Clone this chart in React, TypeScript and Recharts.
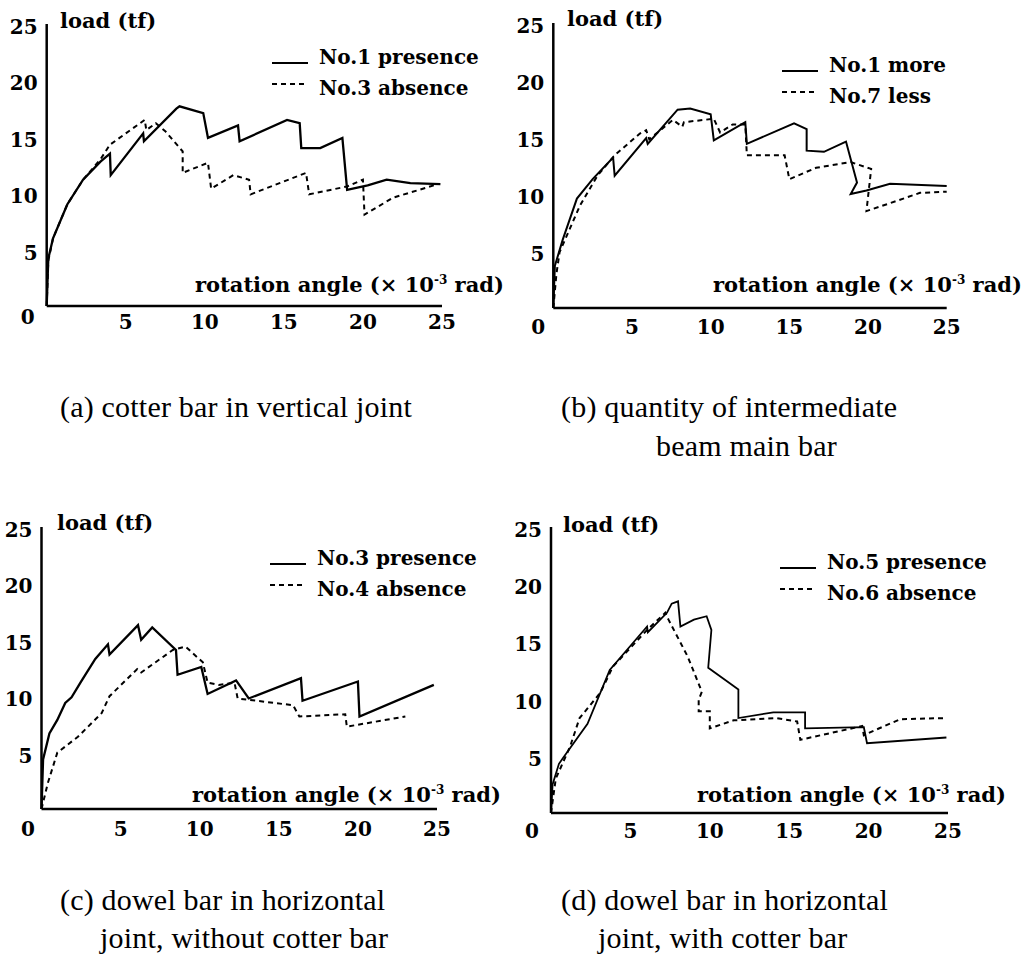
import React from 'react';
import { LineChart, Line, XAxis, YAxis, Legend } from 'recharts';

type Pt = [number, number];

const xTicks = [0, 5, 10, 15, 20, 25];
const yTicks = [5, 10, 15, 20, 25];
const yTitle = 'load (tf)';
const xTitleMain = 'rotation angle (\u00d7 10';
const xTitleExp = '-3';
const xTitleUnit = ' rad)';

// (a) cotter bar in vertical joint
const aPresence: Pt[] = [[0, 0], [0.1, 4.2], [0.4, 6], [1.3, 9], [2.3, 11.2], [3.4, 12.8], [4.0, 13.5], [4.05, 11.6], [6.1, 15.3], [6.15, 14.6], [8.2, 17.5], [8.4, 17.7], [9.9, 17.1], [10.2, 14.9], [12.1, 16.0], [12.2, 14.6], [15.2, 16.5], [16.0, 16.2], [16.1, 14.0], [17.3, 14.0], [18.7, 14.9], [19.0, 10.3], [20.3, 10.7], [21.5, 11.2], [23, 10.9], [24.9, 10.8]];
const aAbsence: Pt[] = [[0, 0], [0.1, 4], [0.4, 6], [1.3, 9], [2.3, 11.2], [3.4, 13.0], [4.0, 14.3], [5.0, 15.3], [6.2, 16.5], [6.3, 15.6], [6.9, 16.2], [7.5, 15.5], [8.6, 13.7], [8.6, 11.8], [10.2, 12.7], [10.4, 10.4], [11.8, 11.6], [12.8, 11.2], [12.9, 9.9], [16.4, 11.8], [16.6, 9.9], [19.0, 10.6], [20.0, 11.2], [20.1, 8.1], [21.9, 9.6], [24.5, 10.7]];

// (b) quantity of intermediate beam main bar
const bMore: Pt[] = [[0, 0], [0.1, 3.7], [0.6, 6.0], [1.5, 9.6], [2.5, 11.3], [3.8, 13.2], [3.9, 11.6], [5.9, 14.9], [6.0, 14.4], [7.9, 17.4], [8.7, 17.5], [10.0, 17.0], [10.2, 14.7], [12.2, 16.3], [12.3, 14.4], [15.3, 16.2], [16.1, 15.7], [16.1, 13.8], [17.2, 13.7], [18.6, 14.6], [19.3, 11.0], [18.9, 10.0], [19.9, 10.3], [21.4, 10.9], [25, 10.7]];
const bLess: Pt[] = [[0, 0], [0.2, 3], [0.4, 4.9], [1.7, 9.0], [2.8, 11.6], [3.9, 13.4], [5.5, 15.3], [5.9, 15.6], [6.1, 14.8], [7.6, 16.5], [8.2, 15.9], [8.3, 16.3], [10.2, 16.6], [10.6, 15.4], [11.4, 16.1], [12.2, 16.1], [12.3, 13.4], [14.7, 13.4], [15.0, 11.3], [16.7, 12.3], [18.9, 12.8], [20.2, 12.2], [19.9, 8.5], [21.2, 9.1], [23.3, 10.1], [25.0, 10.2]];

// (c) dowel bar in horizontal joint, without cotter bar
const cPresence: Pt[] = [[0, 0], [0.1, 4.4], [0.5, 6.7], [1.0, 7.9], [1.5, 9.4], [1.9, 9.9], [2.5, 11.3], [3.4, 13.3], [4.2, 14.6], [4.3, 13.7], [6.1, 16.3], [6.3, 15.0], [7.0, 16.1], [8.5, 14.1], [8.6, 11.9], [10.1, 12.6], [10.5, 10.2], [12.3, 11.4], [13.1, 9.8], [16.4, 11.6], [16.5, 9.6], [20.0, 11.3], [20.1, 8.2], [24.8, 11.0]];
const cAbsence: Pt[] = [[0, 0], [0.4, 2.3], [1.0, 5.0], [2.3, 6.4], [3.8, 8.5], [4.3, 10.0], [6.05, 12.4], [6.3, 12.1], [8.3, 14.1], [9.1, 14.4], [10.2, 13.0], [10.5, 11.2], [11.2, 11.0], [12.2, 11.2], [12.4, 9.8], [15.9, 9.2], [16.3, 8.2], [19.2, 8.4], [19.3, 7.3], [23.0, 8.2]];

// (d) dowel bar in horizontal joint, with cotter bar
const dPresence: Pt[] = [[0, 0], [0.1, 2.5], [0.5, 4.3], [0.8, 4.9], [2.3, 7.8], [3.7, 12.5], [6.05, 16.3], [6.1, 15.8], [7.3, 17.5], [7.6, 18.3], [8.0, 18.5], [8.15, 16.3], [9.0, 16.9], [9.8, 17.2], [10.1, 16.0], [9.9, 12.7], [11.3, 11.3], [11.8, 10.8], [11.8, 8.3], [14.0, 8.8], [16.0, 8.8], [16.0, 7.4], [19.7, 7.5], [19.9, 6.1], [24.9, 6.6]];
const dAbsence: Pt[] = [[0, 0], [0.3, 3], [1.2, 5.8], [1.8, 8.3], [3.1, 10.5], [3.9, 12.8], [6.05, 16.0], [7.2, 17.5], [7.4, 16.9], [8.6, 13.7], [9.5, 10.6], [9.3, 9.9], [9.3, 8.9], [10.0, 8.9], [10.0, 7.4], [11.5, 8.1], [14.2, 8.3], [15.5, 8.0], [15.7, 6.4], [19.6, 7.6], [19.7, 6.8], [20.5, 7.3], [22.0, 8.2], [24.9, 8.3]];

const legendA = ['No.1 presence', 'No.3 absence'];
const legendB = ['No.1 more', 'No.7 less'];
const legendC = ['No.3 presence', 'No.4 absence'];
const legendD = ['No.5 presence', 'No.6 absence'];

const captionA = ['(a) cotter bar in vertical joint'];
const captionB = ['(b) quantity of intermediate', 'beam main bar'];
const captionC = ['(c) dowel bar in horizontal', 'joint, without cotter bar'];
const captionD = ['(d) dowel bar in horizontal', 'joint, with cotter bar'];

const BOLD = '"DejaVu Serif", serif';
const REG = '"Liberation Serif", "Times New Roman", serif';
const TICK_FS = 20;
const TITLE_FS = 21;
const LEGEND_FS = 20;
const CAP_FS = 30;
const DASH = '5 4';
const Y_AXIS_W = 30;
const X_AXIS_H = 30;

interface PanelCfg {
  left: number; top: number; width: number; height: number;
  x0: number; x1: number; y0: number; y1: number;
  zeroDx: number; zeroDy: number; xLabelDy: number;
  legX: number; legY: number;
  loadX: number; loadY: number; rotX: number; rotY: number;
  solid: Pt[]; dashed: Pt[]; legend: string[];
  caption: string[]; capX: number[]; capY: number[];
  solidW: number;
}

const toRows = (pts: Pt[]) => pts.map(([x, y]) => ({ x, y }));

const Title = (p: any) => (
  <text x={p.px} y={p.py} fontFamily={BOLD} fontWeight="bold" fontSize={TITLE_FS} fill="#000">
    {p.children}
  </text>
);

const RotTitle = (p: any) => (
  <text x={p.px} y={p.py} fontFamily={BOLD} fontWeight="bold" fontSize={TITLE_FS} fill="#000">
    <tspan>{xTitleMain}</tspan>
    <tspan dy={-8} fontSize={12}>{xTitleExp}</tspan>
    <tspan dy={8}>{xTitleUnit}</tspan>
  </text>
);

function Panel({ c }: { c: PanelCfg }) {
  const margin = {
    left: c.x0 - c.left - Y_AXIS_W,
    right: c.left + c.width - c.x1,
    top: c.y1 - c.top,
    bottom: c.top + c.height - c.y0 - X_AXIS_H,
  };
  const XTick = (p: any) => {
    const v = p.payload.value;
    return (
      <text x={p.x + (v === 0 ? c.zeroDx : 0)} y={p.y + c.xLabelDy + (v === 0 ? c.zeroDy : 0)} textAnchor="middle"
        fontFamily={BOLD} fontWeight="bold" fontSize={TICK_FS} fill="#000">{v}</text>
    );
  };
  const YTick = (p: any) => (
    <text x={p.x - 9} y={p.y + 10} textAnchor="end" fontFamily={BOLD} fontWeight="bold" fontSize={TICK_FS} fill="#000">
      {p.payload.value}
    </text>
  );
  const legendContent = () => (
    <div style={{ position: 'relative', width: 250, height: 60 }}>
      {c.legend.map((name, i) => (
        <div key={name}>
          <svg width={38} height={4} style={{ position: 'absolute', left: 0, top: (i === 0 ? 18 : 39) - 2 }}>
            <line x1={0} y1={2} x2={36} y2={2} stroke="#000" strokeWidth={2} strokeDasharray={i === 0 ? undefined : DASH} />
          </svg>
          <span style={{
            position: 'absolute', left: 47, top: (i === 0 ? 12 : 43) - 13, lineHeight: '26px', height: 26,
            fontFamily: BOLD, fontWeight: 'bold', fontSize: LEGEND_FS, color: '#000', whiteSpace: 'nowrap',
          }}>{name}</span>
        </div>
      ))}
    </div>
  );
  return (
    <>
      <div style={{ position: 'absolute', left: c.left, top: c.top }}>
        <LineChart width={c.width} height={c.height} margin={margin}>
          <XAxis type="number" dataKey="x" domain={[0, 25]} ticks={xTicks} interval={0} height={X_AXIS_H}
            tickLine={false} tickSize={0} tickMargin={0} tick={<XTick />}
            axisLine={{ stroke: '#000', strokeWidth: 2.5 }}
            label={<RotTitle px={c.rotX - c.left} py={c.rotY - c.top + 7} />} />
          <YAxis type="number" domain={[0, 25]} ticks={yTicks} interval={0} width={Y_AXIS_W}
            tickLine={false} tickSize={0} tickMargin={0} tick={<YTick />}
            axisLine={{ stroke: '#000', strokeWidth: 2.5 }}
            label={<Title px={c.loadX - c.left} py={c.loadY - c.top + 7}>{yTitle}</Title>} />
          <Legend layout="vertical" align="center" verticalAlign="middle" content={legendContent}
            wrapperStyle={{ left: c.legX - c.left, top: c.legY - c.top, width: 250, height: 60 }} />
          <Line data={toRows(c.solid)} dataKey="y" name={c.legend[0]} type="linear" stroke="#000" strokeWidth={c.solidW}
            dot={false} activeDot={false} isAnimationActive={false} />
          <Line data={toRows(c.dashed)} dataKey="y" name={c.legend[1]} type="linear" stroke="#000" strokeWidth={2}
            strokeDasharray={DASH} dot={false} activeDot={false} isAnimationActive={false} />
        </LineChart>
      </div>
      {c.caption.map((t, i) => (
        <div key={t} style={{
          position: 'absolute', left: c.capX[i], top: c.capY[i] - 17, height: 34, lineHeight: '34px',
          fontFamily: REG, fontSize: CAP_FS, letterSpacing: 0.2, color: '#000', whiteSpace: 'nowrap',
        }}>{t}</div>
      ))}
    </>
  );
}

const panels: PanelCfg[] = [
  {
    left: 0, top: 0, width: 515, height: 345, x0: 46.7, x1: 442, y0: 306, y1: 24,
    zeroDx: -19, zeroDy: -5, xLabelDy: 23, legX: 272, legY: 45,
    loadX: 60, loadY: 21, rotX: 195, rotY: 285,
    solid: aPresence, dashed: aAbsence, legend: legendA,
    caption: captionA, capX: [60], capY: [407], solidW: 2.3,
  },
  {
    left: 505, top: 0, width: 525, height: 345, x0: 553.3, x1: 946.7, y0: 308, y1: 23,
    zeroDx: -15, zeroDy: 0, xLabelDy: 26, legX: 782, legY: 53,
    loadX: 567, loadY: 19, rotX: 713, rotY: 285,
    solid: bMore, dashed: bLess, legend: legendB,
    caption: captionB, capX: [561, 656], capY: [407, 446], solidW: 2,
  },
  {
    left: 0, top: 470, width: 515, height: 380, x0: 41.5, x1: 437, y0: 809, y1: 527,
    zeroDx: -13.5, zeroDy: 0, xLabelDy: 27, legX: 270, legY: 546,
    loadX: 57, loadY: 523, rotX: 192, rotY: 795,
    solid: cPresence, dashed: cAbsence, legend: legendC,
    caption: captionC, capX: [60, 100], capY: [900, 938], solidW: 2.3,
  },
  {
    left: 505, top: 470, width: 525, height: 380, x0: 551, x1: 948, y0: 813, y1: 527,
    zeroDx: -19, zeroDy: 0, xLabelDy: 25, legX: 780, legY: 550,
    loadX: 563, loadY: 525, rotX: 697, rotY: 795,
    solid: dPresence, dashed: dAbsence, legend: legendD,
    caption: captionD, capX: [561, 598], capY: [900, 938], solidW: 1.8,
  },
];

export default function App() {
  return (
    <div style={{ position: 'absolute', left: 0, top: 0, width: 1030, height: 955, background: '#fff', overflow: 'hidden' }}>
      {panels.map((c, i) => <Panel key={i} c={c} />)}
    </div>
  );
}
